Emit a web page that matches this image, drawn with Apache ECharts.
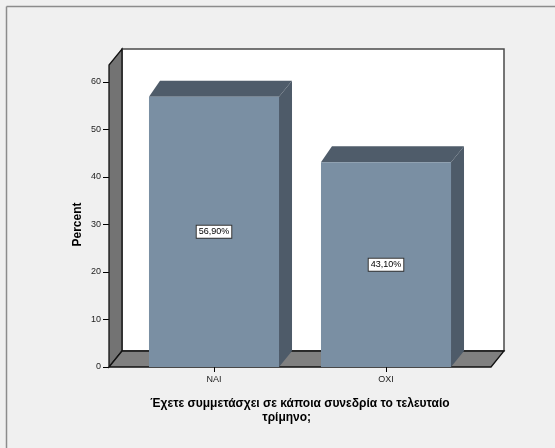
<!DOCTYPE html>
<html>
<head>
<meta charset="utf-8">
<script src="https://cdn.jsdelivr.net/npm/echarts@6/dist/echarts.min.js"></script>
<style>html,body{margin:0;padding:0;background:#f0f0f0}#c{width:555px;height:448px}</style>
</head>
<body>
<div id="c"></div>
<script>
const categories = ['NAI', 'OXI'];
const percentValues = [56.9, 43.1];
const valueLabels = ['56,90%', '43,10%'];
const yTicks = [0, 10, 20, 30, 40, 50, 60];
const xTitle = 'Έχετε συμμετάσχει σε κάποια συνεδρία το τελευταίο\nτρίμηνο;        ';
const yTitle = 'Percent';

const DX = 13, DY = 16, EXT = 19, WALL_UP = 17;
const chart = echarts.init(document.getElementById('c'), null, {renderer: 'canvas'});

function renderFrame(params, api) {
  const cs = params.coordSys;
  const fx0 = cs.x - EXT, fx1 = cs.x + cs.width + EXT;
  const y0 = cs.y + cs.height;
  const top = cs.y - WALL_UP;
  return {
    type: 'group',
    children: [
      {type: 'rect', shape: {x: fx0 + DX, y: top - DY, width: fx1 - fx0, height: y0 - top},
        style: {fill: '#ffffff', stroke: '#4a4a4a', lineWidth: 1.5}},
      {type: 'polygon', shape: {points: [[fx0, y0], [fx0, top], [fx0 + DX, top - DY], [fx0 + DX, y0 - DY]]},
        style: {fill: '#737373', stroke: '#111', lineWidth: 1.3}},
      {type: 'polygon', shape: {points: [[fx0, y0], [fx1, y0], [fx1 + DX, y0 - DY], [fx0 + DX, y0 - DY]]},
        style: {fill: '#808080', stroke: '#111', lineWidth: 1.3}}
    ]
  };
}

function renderBar(params, api) {
  const idx = api.value(0);
  const val = api.value(1);
  const pTop = api.coord([idx, val]);
  const pBase = api.coord([idx, 0]);
  const bw = api.size([1, 0])[0] * 0.756;
  const x0 = pTop[0] - bw / 2, x1 = pTop[0] + bw / 2;
  const yt = pTop[1], yb = pBase[1];
  return {
    type: 'group',
    children: [
      {type: 'polygon', shape: {points: [[x1, yt], [x1 + DX, yt - DY], [x1 + DX, yb - DY], [x1, yb]]},
        style: {fill: '#4e5b69'}},
      {type: 'polygon', shape: {points: [[x0, yt], [x0 + DX - 2, yt - DY], [x1 + DX, yt - DY], [x1, yt]]},
        style: {fill: '#4f5c6a'}},
      {type: 'rect', shape: {x: x0, y: yt, width: bw, height: yb - yt},
        style: {fill: '#7a8fa3'}},
      {type: 'text', x: pTop[0], y: (yt + yb) / 2,
        style: {text: valueLabels[params.dataIndex], align: 'center', verticalAlign: 'middle',
          fontSize: 9, fontFamily: 'Liberation Sans, Arial, sans-serif', fill: '#000',
          backgroundColor: '#ffffff', borderColor: '#333', borderWidth: 1, padding: [2, 2, 1, 2]}}
    ]
  };
}

const option = {
  backgroundColor: '#f0f0f0',
  animation: false,
  grid: {left: 128, right: 83, top: 82, bottom: 81, containLabel: false},
  xAxis: {
    type: 'category', data: categories, boundaryGap: true,
    axisLine: {show: false},
    axisTick: {show: true, alignWithLabel: true, length: 5, lineStyle: {color: '#000'}},
    axisLabel: {fontSize: 9, color: '#222', margin: 8, fontFamily: 'Liberation Sans, Arial, sans-serif'},
    splitLine: {show: false},
    name: xTitle, nameLocation: 'middle', nameGap: 30, nameMoveOverlap: false,
    nameTextStyle: {fontSize: 12, fontWeight: 'bold', color: '#000', lineHeight: 14,
      fontFamily: 'Liberation Sans, Arial, sans-serif'}
  },
  yAxis: {
    type: 'value', min: yTicks[0], max: yTicks[yTicks.length - 1], interval: 10,
    offset: 19,
    axisLine: {show: false},
    axisTick: {show: true, length: 6, lineStyle: {color: '#000'}},
    axisLabel: {fontSize: 9, color: '#222', margin: 8, fontFamily: 'Liberation Sans, Arial, sans-serif'},
    splitLine: {show: false},
    name: yTitle, nameLocation: 'middle', nameGap: 25, nameMoveOverlap: false,
    nameTextStyle: {fontSize: 12, fontWeight: 'bold', color: '#000',
      fontFamily: 'Liberation Sans, Arial, sans-serif'}
  },
  graphic: [
    {type: 'line', shape: {x1: 6.5, y1: 6.5, x2: 555, y2: 6.5}, style: {stroke: '#8c8c8c', lineWidth: 1.5}, silent: true},
    {type: 'line', shape: {x1: 6.5, y1: 6.5, x2: 6.5, y2: 448}, style: {stroke: '#8c8c8c', lineWidth: 1.5}, silent: true}
  ],
  series: [
    {type: 'custom', name: 'frame', data: [[0, 0]], renderItem: renderFrame, z: 1, silent: true, clip: false},
    {type: 'custom', name: 'Percent', data: categories.map((c, i) => [i, percentValues[i]]),
      renderItem: renderBar, z: 2, clip: false}
  ]
};
chart.setOption(option);
</script>
</body>
</html>
